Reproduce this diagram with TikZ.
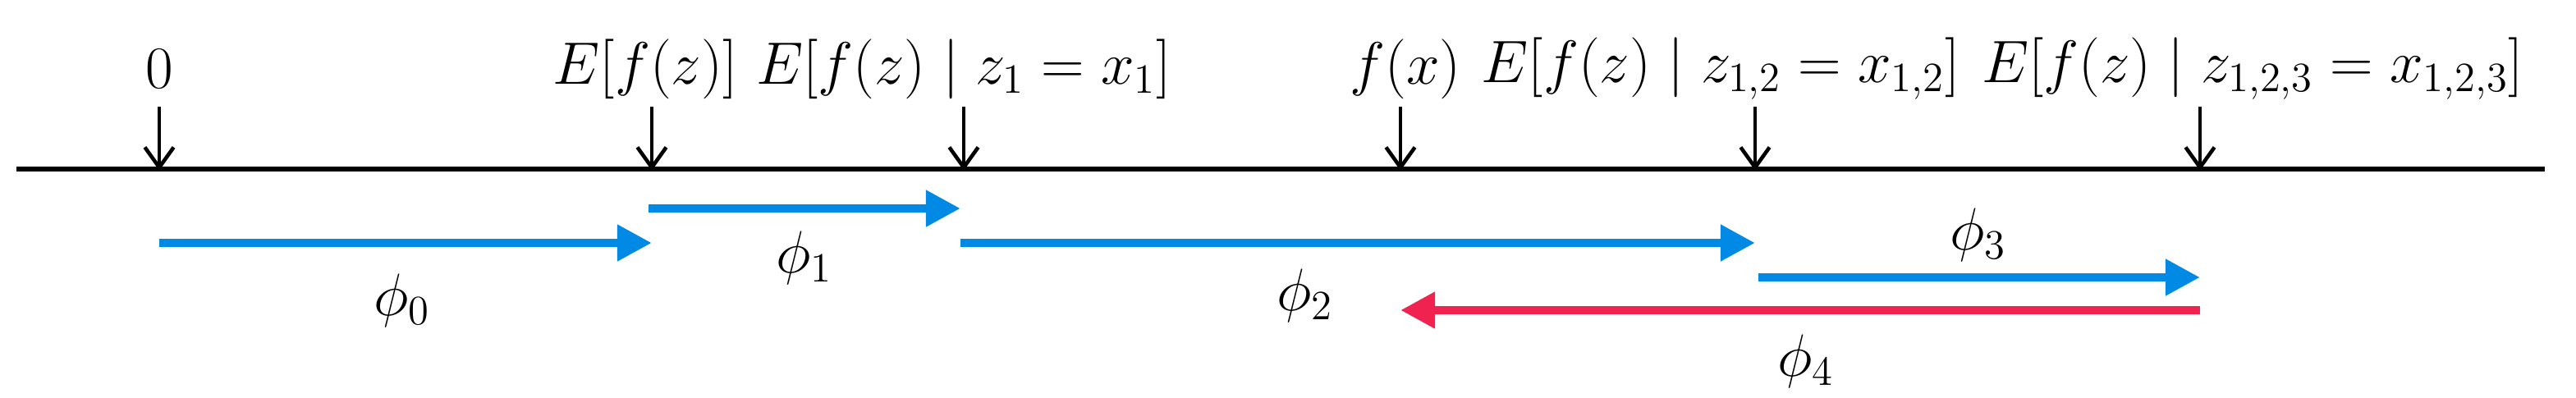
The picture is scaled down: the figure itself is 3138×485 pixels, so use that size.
\documentclass[tikz,border=0pt]{standalone}
\usetikzlibrary{arrows.meta}
\definecolor{pblue}{RGB}{0,137,229}
\definecolor{pred}{RGB}{240,35,80}
\begin{document}
\begin{tikzpicture}[x=0.01cm,y=-0.01cm,
  lbl/.style={font=\fontsize{19.5}{23}\selectfont,inner sep=0pt},
  tick/.style={line width=1.3pt,-{Straight Barb[length=7pt,width=10pt]}},
  phi/.style={line width=3pt,-{Triangle[length=12pt,width=12pt]}}]
\useasboundingbox (0,0) rectangle (3138,485);
\coordinate (L) at (20,206); \coordinate (R) at (3100,206);
\draw[line width=1.8pt] (L) -- (R);
\foreach \n/\x/\lx/\t in {a/194/194/{$0$},b/794/786/{$E[f(z)]$},c/1174/1174/{$E[f(z)\mid z_1=x_1]$},d/1706/1712/{$f(x)$},e/2138/2096/{$E[f(z)\mid z_{1,2}=x_{1,2}]$},f/2680/2744/{$E[f(z)\mid z_{1,2,3}=x_{1,2,3}]$}}{
  \node[lbl] (t\n) at (\lx,84) {\t};
  \coordinate (s\n) at (\x,130); \coordinate (e\n) at (\x,208);
  \draw[tick] (s\n) -- (e\n);
}
\coordinate (p0s) at (194,296); \coordinate (p0e) at (794,296);
\coordinate (p1s) at (790,254); \coordinate (p1e) at (1170,254);
\coordinate (p2s) at (1170,296); \coordinate (p2e) at (2138,296);
\coordinate (p3s) at (2142,338); \coordinate (p3e) at (2680,338);
\coordinate (p4s) at (2680,378); \coordinate (p4e) at (1706,378);
\draw[phi,pblue] (p0s) -- (p0e);
\draw[phi,pblue] (p1s) -- (p1e);
\draw[phi,pblue] (p2s) -- (p2e);
\draw[phi,pblue] (p3s) -- (p3e);
\draw[phi,pred] (p4s) -- (p4e);
\node[lbl] (l0) at (490,366) {$\phi_0$};
\node[lbl] (l1) at (980,314) {$\phi_1$};
\node[lbl] (l2) at (1590,360) {$\phi_2$};
\node[lbl] (l3) at (2410,286) {$\phi_3$};
\node[lbl] (l4) at (2200,440) {$\phi_4$};
\end{tikzpicture}
\end{document}
